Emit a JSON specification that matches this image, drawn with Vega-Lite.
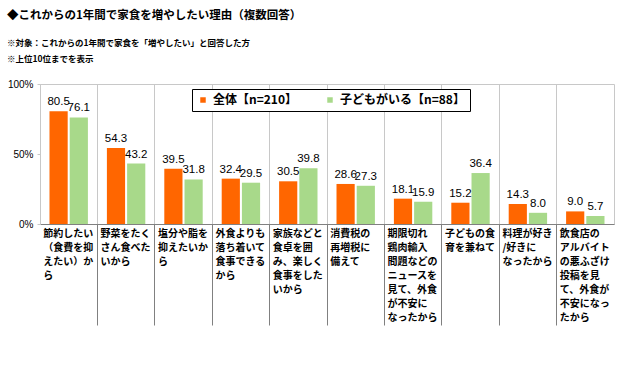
{
  "$schema": "https://vega.github.io/schema/vega-lite/v6.json",
  "autosize": "none",
  "width": 574,
  "height": 140,
  "padding": {"left": 40, "top": 84, "right": 26, "bottom": 146},
  "background": "white",
  "config": {
    "font": "Noto Sans CJK JP",
    "view": {"stroke": "#c8c8c8", "strokeWidth": 1}
  },
  "title": {
    "text": "◆これからの1年間で家食を増やしたい理由（複数回答）",
    "subtitle": ["※対象：これからの1年間で家食を「増やしたい」と回答した方", "※上位10位までを表示"],
    "anchor": "start",
    "frame": "group",
    "dx": -33,
    "offset": 16,
    "font": "Noto Sans CJK JP",
    "fontSize": 11.5,
    "fontWeight": "bold",
    "color": "#000000",
    "subtitleFont": "Noto Sans CJK JP",
    "subtitleFontSize": 8.5,
    "subtitleFontWeight": "bold",
    "subtitleColor": "#000000",
    "subtitlePadding": 17,
    "subtitleLineHeight": 16
  },
  "data": {
    "values": [
      {"cat": "節約したい|（食費を抑|えたい）か|ら", "series": "全体【n=210】", "value": 80.5},
      {"cat": "節約したい|（食費を抑|えたい）か|ら", "series": "子どもがいる【n=88】", "value": 76.1},
      {"cat": "野菜をたく|さん食べた|いから", "series": "全体【n=210】", "value": 54.3},
      {"cat": "野菜をたく|さん食べた|いから", "series": "子どもがいる【n=88】", "value": 43.2},
      {"cat": "塩分や脂を|抑えたいか|ら", "series": "全体【n=210】", "value": 39.5},
      {"cat": "塩分や脂を|抑えたいか|ら", "series": "子どもがいる【n=88】", "value": 31.8},
      {"cat": "外食よりも|落ち着いて|食事できる|から", "series": "全体【n=210】", "value": 32.4},
      {"cat": "外食よりも|落ち着いて|食事できる|から", "series": "子どもがいる【n=88】", "value": 29.5},
      {"cat": "家族などと|食卓を囲|み、楽しく|食事をした|いから", "series": "全体【n=210】", "value": 30.5},
      {"cat": "家族などと|食卓を囲|み、楽しく|食事をした|いから", "series": "子どもがいる【n=88】", "value": 39.8},
      {"cat": "消費税の|再増税に|備えて", "series": "全体【n=210】", "value": 28.6},
      {"cat": "消費税の|再増税に|備えて", "series": "子どもがいる【n=88】", "value": 27.3},
      {"cat": "期限切れ|鶏肉輸入|問題などの|ニュースを|見て、外食|が不安に|なったから", "series": "全体【n=210】", "value": 18.1},
      {"cat": "期限切れ|鶏肉輸入|問題などの|ニュースを|見て、外食|が不安に|なったから", "series": "子どもがいる【n=88】", "value": 15.9},
      {"cat": "子どもの食|育を兼ねて", "series": "全体【n=210】", "value": 15.2},
      {"cat": "子どもの食|育を兼ねて", "series": "子どもがいる【n=88】", "value": 36.4},
      {"cat": "料理が好き|/好きに|なったから", "series": "全体【n=210】", "value": 14.3},
      {"cat": "料理が好き|/好きに|なったから", "series": "子どもがいる【n=88】", "value": 8.0},
      {"cat": "飲食店の|アルバイト|の悪ふざけ|投稿を見|て、外食が|不安になっ|たから", "series": "全体【n=210】", "value": 9.0},
      {"cat": "飲食店の|アルバイト|の悪ふざけ|投稿を見|て、外食が|不安になっ|たから", "series": "子どもがいる【n=88】", "value": 5.7}
    ]
  },
  "encoding": {
    "x": {
      "field": "cat",
      "type": "nominal",
      "sort": null,
      "scale": {"paddingInner": 0, "paddingOuter": 0},
      "axis": {
        "title": null,
        "bandPosition": 0,
        "labelExpr": "split(datum.value, '|')",
        "labelAngle": 0,
        "labelAlign": "left",
        "labelBaseline": "top",
        "labelOffset": -25.5,
        "labelPadding": -97,
        "labelFontSize": 10,
        "labelFontWeight": "bold",
        "labelColor": "#000000",
        "labelLineHeight": 14,
        "labelFlush": false,
        "labelOverlap": false,
        "labelBound": false,
        "labelLimit": 0,
        "tickSize": 101,
        "tickWidth": 1,
        "tickColor": {"condition": {"test": "datum.index == 0", "value": "transparent"}, "value": "#808080"},
        "domainColor": "#808080",
        "grid": true,
        "gridColor": "#c8c8c8"
      }
    },
    "xOffset": {
      "field": "series",
      "type": "nominal",
      "sort": ["全体【n=210】", "子どもがいる【n=88】"],
      "scale": {"paddingInner": 0.1, "paddingOuter": 0.47}
    },
    "y": {
      "field": "value",
      "type": "quantitative",
      "scale": {"domain": [0, 100]},
      "axis": {
        "title": null,
        "values": [0, 50, 100],
        "labelExpr": "datum.value + '%'",
        "labelFont": "Liberation Sans",
        "labelFontSize": 10,
        "labelColor": "#000000",
        "labelPadding": 4,
        "tickSize": 3,
        "tickColor": "#c8c8c8",
        "domainColor": "#c8c8c8",
        "grid": false
      }
    }
  },
  "layer": [
    {
      "mark": {"type": "bar"},
      "encoding": {
        "color": {
          "field": "series",
          "type": "nominal",
          "sort": ["全体【n=210】", "子どもがいる【n=88】"],
          "scale": {"domain": ["全体【n=210】", "子どもがいる【n=88】"], "range": ["#FF6600", "#A8D98A"]},
          "legend": {
            "title": null,
            "orient": "none",
            "legendX": 152,
            "legendY": 5,
            "direction": "horizontal",
            "symbolType": "square",
            "symbolSize": 30,
            "symbolStrokeWidth": 0,
            "labelFontSize": 12,
            "labelFontWeight": "bold",
            "labelColor": "#000000",
            "labelLimit": 0,
            "columnPadding": 26,
            "padding": 5,
            "strokeColor": "#000000",
            "fillColor": "white"
          }
        }
      }
    },
    {
      "mark": {"type": "text", "baseline": "bottom", "dy": -4, "font": "Liberation Sans", "fontSize": 11.5, "color": "#000000"},
      "encoding": {
        "text": {"field": "value", "type": "quantitative", "format": ".1f"}
      }
    }
  ]
}
